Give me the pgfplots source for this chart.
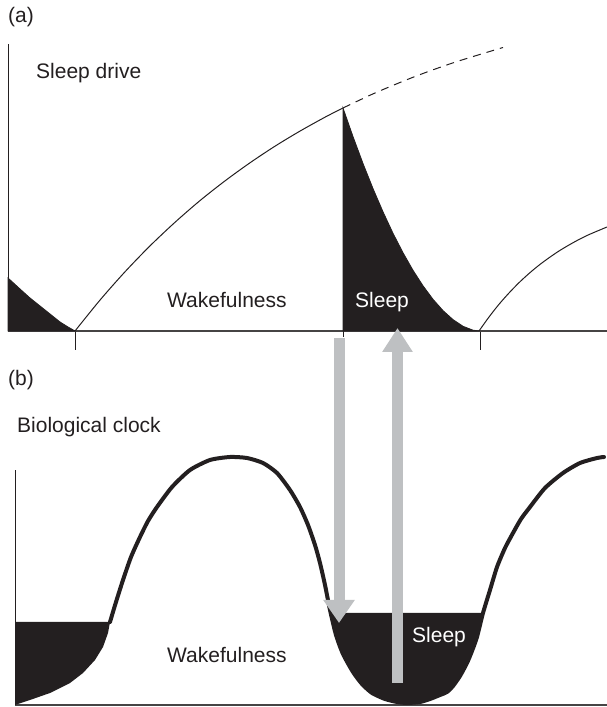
\documentclass[border=0pt]{standalone}
\usepackage{pgfplots}
\pgfplotsset{compat=1.18}
\usepackage{fontspec}
\setmainfont{Liberation Sans}
\usetikzlibrary{arrows.meta}
\definecolor{darkc}{RGB}{35,31,32}
\definecolor{basec}{RGB}{70,68,68}
\definecolor{arrowgray}{RGB}{190,192,194}
\begin{document}
\begin{tikzpicture}[x=1pt,y=1pt]
\path[use as bounding box] (0,0) rectangle (607,707);
% ---------------- panel (a) ----------------
\begin{axis}[
  at={(8pt,376pt)}, anchor=south west, scale only axis,
  width=599pt, height=287pt,
  xmin=8, xmax=607, ymin=0, ymax=287, enlargelimits=false, clip=false,
  axis x line=bottom, axis y line=left,
  axis line style={-, line width=1pt, color=darkc},
  x axis line style={line width=1.3pt, color=basec},
  xtick={75,480}, xticklabels={},
  extra x ticks={343}, extra x tick labels={},
  extra x tick style={major tick length=6pt},
  xtick align=outside, major tick length=19pt,
  tick style={line width=1pt, color=darkc},
  ytick=\empty,
]
\addplot[fill=darkc, draw=darkc, line width=0.8pt] coordinates {(8,0)(8,53)(20,42)(30,33)(40,25)(50,17)(60,9)(68,4)(75,0)} -- cycle;
\addplot[fill=darkc, draw=darkc, line width=0.8pt] coordinates {(343,0)(343,223)(353,194.4)(363,167.5)(373,142.4)(383,119.2)(393,97.7)(403,78.3)(413,60.7)(423,45.2)(433,31.7)(443,20.4)(453,11.4)(463,4.7)(473,0.8)(479,0)} -- cycle;
\addplot[darkc, line width=1pt, smooth] coordinates {(75,0)(100,30.9)(125,59.2)(150,85.1)(175,108.7)(200,130.4)(225,150.1)(250,168.2)(275,184.8)(300,199.9)(325,213.8)(343,223)};
\addplot[darkc, line width=1pt, smooth, dash pattern=on 8pt off 6pt] coordinates {(343,223)(375,238)(415,254.5)(455,268.8)(503,283.5)};
\addplot[darkc, line width=1pt, smooth] coordinates {(479,0)(489,14)(499,26.7)(509,38)(519,48.3)(529,57.5)(539,65.8)(549,73.2)(559,80)(569,86)(579,91.5)(589,96.4)(607,104)};
\end{axis}
% ---------------- panel (b) ----------------
\begin{axis}[
  at={(15pt,2pt)}, anchor=south west, scale only axis,
  width=592pt, height=235pt,
  xmin=15, xmax=607, ymin=0, ymax=235, enlargelimits=false, clip=false,
  axis x line=bottom, axis y line=left,
  axis line style={-, line width=1pt, color=darkc},
  x axis line style={line width=1.3pt, color=basec},
  xtick=\empty, ytick=\empty,
]
\addplot[fill=darkc, draw=none] coordinates {(15,83)(15,0)(30,5)(50,12)(70,22)(83,32)(95,45)(103,58)(108,72)(110,83)} -- cycle;
\addplot[fill=darkc, draw=none] coordinates {(330.7,92)(336,70)(343,51)(353,33)(362,21)(372,12)(385,6)(397,3)(407,2)(420,3)(430,6)(440,10)(447,13)(453,19)(460,29)(467,42)(472,54)(477,68)(483,92)} -- cycle;
\addplot[darkc, line width=4pt, smooth, tension=0.4, line cap=round] coordinates {(110,83)(116,103)(123,125)(131,148)(140,168)(148,184)(157,198)(172,218)(190,235)(210,245)(230,248)(247,247)(263,242)(277,232)(290,215)(300,198)(308,180)(315,160)(320,142)(325,120)(330,95)(336,70)(343,51)(353,33)(362,21)(372,12)(385,6)(397,3)(407,2)(420,3)(430,6)(440,10)(447,13)(453,19)(460,29)(467,42)(472,54)(477,68)(483,92)(490,115)(497,138)(505,157)(513,172)(521,186)(530,198)(545,217)(563,232)(580,242)(597,247)(604,248)};
\draw[arrowgray, line width=11pt, -{Triangle[width=30pt,length=23pt]}] (axis cs:339,367) -- (axis cs:339,82);
\draw[arrowgray, line width=11pt, -{Triangle[width=29pt,length=24pt]}] (axis cs:397.5,22) -- (axis cs:397.5,377);
\end{axis}
% ---------------- texts ----------------
\begin{scope}[every node/.style={inner sep=0pt, font=\fontsize{21}{25}\selectfont, text=darkc}]
\node[anchor=west] at (8,690) {(a)};
\node[anchor=base west] at (36,628) {Sleep drive};
\node[anchor=base west] at (167,399) {Wakefulness};
\node[anchor=base west, text=white] at (355,399) {Sleep};
\node[anchor=west] at (8,327) {(b)};
\node[anchor=base west] at (17,274) {Biological clock};
\node[anchor=base west] at (167,44) {Wakefulness};
\node[anchor=base west, text=white] at (412,64) {Sleep};
\end{scope}
\end{tikzpicture}
\end{document}
